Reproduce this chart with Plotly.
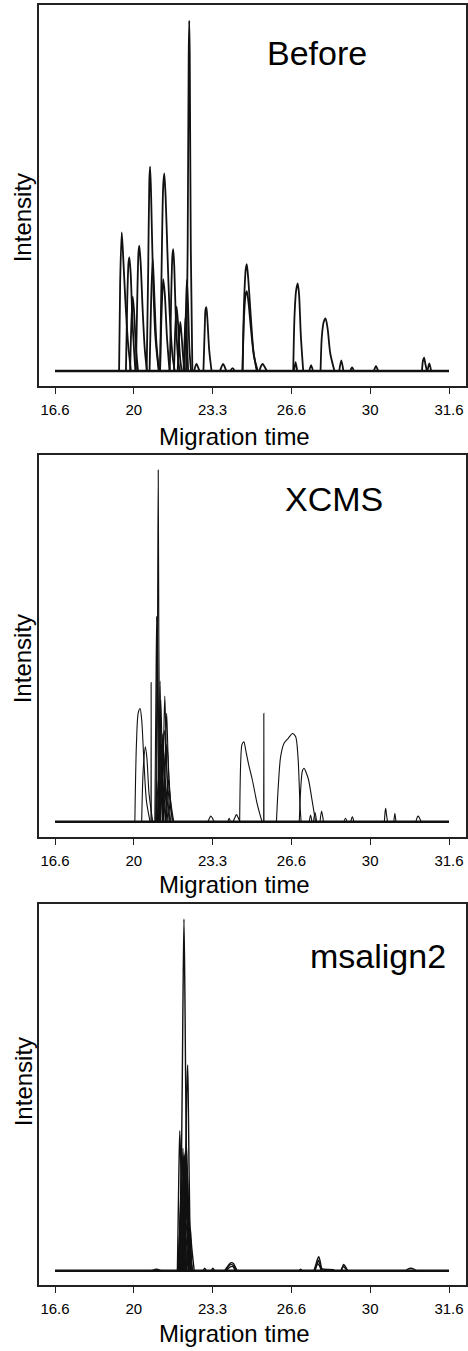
import plotly.graph_objects as go

# ---------------- data (axis position, normalised intensity) ----------------
tick_vals = [16.6, 19.6, 22.6, 25.6, 28.6, 31.6]
tick_labels = ["16.6", "20", "23.3", "26.6", "30", "31.6"]
baseline_t = [16.6, 31.6]
baseline_i = [0, 0]

panel_titles = ["Before", "XCMS", "msalign2"]

# "Before" panel: peaks separated by None
before_t = [
    19.04, 19.08, 19.14, 19.20, 19.28, 19.38, 19.49, None,
    19.30, 19.35, 19.40, 19.43, 19.48, 19.55, 19.66, None,
    19.46, 19.51, 19.56, 19.61, 19.68, 19.76, None,
    19.68, 19.73, 19.78, 19.81, 19.86, 19.94, 20.02, 20.10, None,
    20.09, 20.15, 20.19, 20.22, 20.26, 20.32, 20.42, 20.55, None,
    20.20, 20.26, 20.32, 20.38, 20.46, 20.56, None,
    20.60, 20.66, 20.72, 20.76, 20.81, 20.88, 20.97, 21.08, 21.16, None,
    20.60, 20.66, 20.72, 20.78, 20.86, 20.96, None,
    20.97, 21.02, 21.07, 21.10, 21.14, 21.20, 21.28, 21.34, None,
    21.13, 21.18, 21.23, 21.29, 21.36, 21.42, None,
    21.27, 21.32, 21.37, 21.42, 21.49, 21.55, None,
    21.53, 21.58, 21.62, 21.66, 21.72, 21.78, None,
    21.49, 21.54, 21.57, 21.61, 21.67, None,
    21.60, 21.65, 21.69, 21.71, 21.73, 21.77, 21.83, None,
    21.90, 21.95, 21.99, 22.04, 22.10, None,
    22.25, 22.30, 22.33, 22.36, 22.40, 22.47, 22.56, None,
    22.88, 22.94, 23.00, 23.06, 23.12, None,
    23.28, 23.36, 23.44, None,
    23.74, 23.80, 23.86, 23.90, 23.95, 24.05, 24.15, 24.28, None,
    23.74, 23.80, 23.86, 23.90, 23.96, 24.06, 24.18, 24.32, None,
    24.38, 24.45, 24.51, 24.58, 24.66, None,
    25.67, 25.72, 25.78, 25.84, 25.89, 25.96, 26.05, None,
    25.70, 25.76, 25.82, None,
    26.28, 26.35, 26.42, None,
    26.71, 26.76, 26.83, 26.90, 26.98, 27.08, 27.24, None,
    27.42, 27.50, 27.58, None,
    27.84, 27.91, 27.98, None,
    28.74, 28.82, 28.90, None,
    30.57, 30.61, 30.65, 30.70, 30.76, None,
    30.78, 30.85, 30.92,
]
before_i = [
    0, 0.25, 0.396, 0.32, 0.20, 0.08, 0, None,
    0, 0.20, 0.31, 0.324, 0.28, 0.14, 0, None,
    0, 0.14, 0.212, 0.17, 0.07, 0, None,
    0, 0.20, 0.34, 0.358, 0.31, 0.17, 0.06, 0, None,
    0, 0.30, 0.54, 0.583, 0.50, 0.30, 0.10, 0, None,
    0, 0.20, 0.32, 0.22, 0.08, 0, None,
    0, 0.30, 0.53, 0.564, 0.50, 0.34, 0.16, 0.04, 0, None,
    0, 0.17, 0.262, 0.22, 0.10, 0, None,
    0, 0.20, 0.33, 0.348, 0.30, 0.15, 0.04, 0, None,
    0, 0.12, 0.184, 0.13, 0.04, 0, None,
    0, 0.09, 0.140, 0.10, 0.03, 0, None,
    0, 0.16, 0.26, 0.20, 0.06, 0, None,
    0, 0.10, 0.155, 0.10, 0, None,
    0, 0.35, 0.90, 1.0, 0.90, 0.35, 0, None,
    0, 0.015, 0.02, 0.012, 0, None,
    0, 0.12, 0.175, 0.182, 0.15, 0.06, 0, None,
    0, 0.012, 0.02, 0.012, 0, None,
    0, 0.008, 0, None,
    0, 0.20, 0.29, 0.305, 0.27, 0.16, 0.06, 0, None,
    0, 0.16, 0.22, 0.228, 0.20, 0.12, 0.04, 0, None,
    0, 0.015, 0.02, 0.012, 0, None,
    0, 0.16, 0.23, 0.25, 0.22, 0.10, 0, None,
    0, 0.025, 0, None,
    0, 0.017, 0, None,
    0, 0.10, 0.14, 0.15, 0.12, 0.05, 0, None,
    0, 0.03, 0, None,
    0, 0.01, 0, None,
    0, 0.014, 0, None,
    0, 0.03, 0.038, 0.02, 0, None,
    0, 0.022, 0,
]

# "XCMS" panel
xcms_t = [
    19.64, 19.70, 19.77, 19.84, 19.90, 19.98, 20.08, 20.22, None,
    19.90, 19.96, 20.04, 20.10, 20.18, 20.32, None,
    20.255, 20.26, 20.265, None,
    20.46, 20.50, 20.53, 20.555, 20.60, None,
    20.40, 20.44, 20.47, 20.50, 20.56, None,
    20.43, 20.47, 20.50, 20.54, 20.60, None,
    20.55, 20.60, 20.63, 20.67, 20.74, None,
    20.68, 20.74, 20.78, 20.82, 20.90, 20.98, None,
    20.74, 20.80, 20.85, 20.90, 21.00, 21.10, None,
    20.50, 20.55, 20.58, 20.62, 20.70, None,
    20.60, 20.66, 20.70, 20.75, 20.86, None,
    20.55, 20.62, 20.66, 20.72, 20.84, None,
    20.62, 20.70, 20.74, 20.80, 20.95, None,
    20.80, 20.87, 20.92, 20.98, 21.12, None,
    20.54, 20.58, 20.60, 20.63, 20.70, None,
    20.50, 20.58, 20.66, 20.76, 20.90, None,
    20.56, 20.66, 20.76, 20.86, 21.00, None,
    20.70, 20.78, 20.86, 20.94, 21.06, None,
    20.45, 20.52, 20.60, 20.70, 20.82, None,
    22.42, 22.48, 22.53, 22.58, 22.66, None,
    23.18, 23.23, 23.28, None,
    23.38, 23.45, 23.51, 23.57, 23.64, None,
    23.63, 23.67, 23.72, 23.79, 23.87, 23.98, 24.11, 24.30, 24.48, None,
    24.545, 24.55, 24.555, None,
    25.03, 25.10, 25.19, 25.32, 25.48, 25.64, 25.76, 25.85, 25.93, 25.97, None,
    25.90, 25.96, 26.02, 26.08, 26.16, 26.25, 26.40, 26.52, None,
    26.28, 26.33, 26.38, None,
    26.44, 26.50, 26.56, None,
    26.69, 26.75, 26.82, None,
    27.60, 27.66, 27.72, None,
    27.86, 27.92, 27.98, None,
    29.14, 29.17, 29.19, 29.22, 29.26, None,
    29.50, 29.54, 29.58, None,
    30.34, 30.40, 30.43, 30.48, 30.54,
]
xcms_i = [
    0, 0.22, 0.31, 0.322, 0.29, 0.18, 0.06, 0, None,
    0, 0.15, 0.213, 0.18, 0.08, 0, None,
    0, 0.396, 0, None,
    0, 0.50, 1.0, 0.50, 0, None,
    0, 0.35, 0.583, 0.35, 0, None,
    0, 0.30, 0.564, 0.30, 0, None,
    0, 0.22, 0.346, 0.22, 0, None,
    0, 0.24, 0.357, 0.25, 0.06, 0, None,
    0, 0.20, 0.308, 0.20, 0.04, 0, None,
    0, 0.20, 0.30, 0.20, 0, None,
    0, 0.16, 0.25, 0.15, 0, None,
    0, 0.12, 0.18, 0.10, 0, None,
    0, 0.14, 0.20, 0.12, 0, None,
    0, 0.08, 0.12, 0.07, 0, None,
    0, 0.25, 0.40, 0.25, 0, None,
    0, 0.12, 0.22, 0.14, 0, None,
    0, 0.15, 0.26, 0.14, 0, None,
    0, 0.14, 0.22, 0.12, 0, None,
    0, 0.10, 0.16, 0.08, 0, None,
    0, 0.010, 0.016, 0.012, 0, None,
    0, 0.010, 0, None,
    0, 0.012, 0.02, 0.012, 0, None,
    0, 0.17, 0.22, 0.227, 0.20, 0.16, 0.12, 0.05, 0, None,
    0, 0.308, 0, None,
    0, 0.10, 0.185, 0.223, 0.237, 0.251, 0.242, 0.185, 0.043, 0, None,
    0, 0.10, 0.145, 0.152, 0.14, 0.12, 0.055, 0, None,
    0, 0.019, 0, None,
    0, 0.026, 0, None,
    0, 0.03, 0, None,
    0, 0.010, 0, None,
    0, 0.014, 0, None,
    0, 0.03, 0.038, 0.02, 0, None,
    0, 0.024, 0, None,
    0, 0.014, 0.016, 0.01, 0,
]

# "msalign2" panel
msalign_t = [
    21.34, 21.42, 21.47, 21.51, 21.55, 21.60, 21.70, None,
    21.52, 21.57, 21.61, 21.65, 21.68, 21.73, 21.80, None,
    21.26, 21.31, 21.35, 21.39, 21.44, 21.52, None,
    21.50, 21.55, 21.60, 21.66, 21.76, None,
    21.38, 21.43, 21.47, 21.52, 21.60, None,
    21.44, 21.50, 21.55, 21.60, 21.70, None,
    21.30, 21.37, 21.42, 21.48, 21.58, None,
    21.48, 21.55, 21.60, 21.66, 21.78, None,
    21.62, 21.70, 21.75, 21.80, 21.90, None,
    21.32, 21.40, 21.50, 21.58, 21.72, None,
    21.40, 21.50, 21.58, 21.66, 21.84, None,
    21.30, 21.38, 21.45, 21.52, 21.62, None,
    21.36, 21.44, 21.52, 21.60, 21.74, None,
    21.40, 21.48, 21.56, 21.64, 21.78, None,
    21.46, 21.54, 21.62, 21.70, 21.82, None,
    21.28, 21.36, 21.44, 21.54, 21.66, 21.80, None,
    20.30, 20.46, 20.62, None,
    22.24, 22.30, 22.36, None,
    22.55, 22.61, 22.67, None,
    23.06, 23.15, 23.25, 23.31, 23.40, 23.48, 23.53, None,
    23.10, 23.22, 23.32, 23.42, 23.50, None,
    23.12, 23.26, 23.36, 23.46, None,
    25.90, 25.95, 26.00, None,
    26.46, 26.52, 26.58, 26.64, 26.70, 26.76, 26.85, 27.20, 27.25, None,
    26.48, 26.56, 26.63, 26.68, 26.76, None,
    26.50, 26.60, 26.66, 26.74, None,
    27.48, 27.54, 27.59, 27.65, 27.74, None,
    27.50, 27.58, 27.66, 27.72, None,
    29.95, 30.05, 30.14, 30.25, 30.35,
]
msalign_i = [
    0, 0.35, 0.75, 1.0, 0.75, 0.35, 0, None,
    0, 0.25, 0.50, 0.585, 0.45, 0.15, 0, None,
    0, 0.25, 0.398, 0.30, 0.10, 0, None,
    0, 0.22, 0.362, 0.20, 0, None,
    0, 0.22, 0.348, 0.22, 0, None,
    0, 0.18, 0.30, 0.18, 0, None,
    0, 0.15, 0.25, 0.14, 0, None,
    0, 0.14, 0.22, 0.12, 0, None,
    0, 0.08, 0.12, 0.07, 0, None,
    0, 0.10, 0.18, 0.10, 0, None,
    0, 0.08, 0.14, 0.08, 0, None,
    0, 0.20, 0.32, 0.20, 0, None,
    0, 0.18, 0.33, 0.22, 0, None,
    0, 0.20, 0.34, 0.20, 0, None,
    0, 0.18, 0.30, 0.16, 0, None,
    0, 0.12, 0.22, 0.28, 0.12, 0, None,
    0, 0.004, 0, None,
    0, 0.007, 0, None,
    0, 0.007, 0, None,
    0, 0.010, 0.020, 0.023, 0.020, 0.008, 0, None,
    0, 0.014, 0.018, 0.012, 0, None,
    0, 0.010, 0.012, 0, None,
    0, 0.004, 0, None,
    0, 0.015, 0.030, 0.040, 0.025, 0.006, 0.004, 0.003, 0, None,
    0, 0.015, 0.030, 0.020, 0, None,
    0, 0.020, 0.015, 0, None,
    0, 0.010, 0.018, 0.012, 0, None,
    0, 0.012, 0.006, 0, None,
    0, 0.005, 0.007, 0.005, 0,
]

# ---------------- figure ----------------
W, H = 468, 1351
FONT = "Liberation Sans, Arial, Helvetica, sans-serif"
INK = "#111111"

def py(px):
    return 1 - px / H

x_domain = [39 / W, 466 / W]
y_domains = [[py(386), py(5)], [py(837), py(455)], [py(1285), py(904)]]
y_ranges = [[-0.0428, 1.0448], [-0.0435, 1.0427], [-0.0407, 1.0427]]
x_range = [15.991, 32.247]

series = [(before_t, before_i, 1.8), (xcms_t, xcms_i, 1.1), (msalign_t, msalign_i, 1.4)]

fig = go.Figure()
for k, (tt, ii, lw) in enumerate(series):
    xa = "x" if k == 0 else f"x{k+1}"
    ya = "y" if k == 0 else f"y{k+1}"
    fig.add_trace(go.Scatter(x=baseline_t, y=baseline_i, mode="lines",
                             line=dict(color=INK, width=2.6), xaxis=xa, yaxis=ya,
                             hoverinfo="skip"))
    fig.add_trace(go.Scatter(x=tt, y=ii, mode="lines", connectgaps=False,
                             line=dict(color=INK, width=lw, shape="spline", smoothing=0.8),
                             xaxis=xa, yaxis=ya, hoverinfo="skip"))

layout = dict(width=W, height=H, margin=dict(l=0, r=0, t=0, b=0),
              paper_bgcolor="white", plot_bgcolor="white", showlegend=False,
              font=dict(family=FONT, color="black"))
for k in range(3):
    xn = "xaxis" if k == 0 else f"xaxis{k+1}"
    yn = "yaxis" if k == 0 else f"yaxis{k+1}"
    yid = "y" if k == 0 else f"y{k+1}"
    xid = "x" if k == 0 else f"x{k+1}"
    layout[xn] = dict(domain=x_domain, range=x_range, anchor=yid,
                      tickmode="array", tickvals=tick_vals, ticktext=tick_labels,
                      ticks="outside", ticklen=6, tickwidth=1.4, tickcolor="#222",
                      tickfont=dict(size=15, family=FONT, color="black"),
                      ticklabelstandoff=3,
                      showline=True, linecolor="#222", linewidth=1.5, mirror=True,
                      showgrid=False, zeroline=False)
    layout[yn] = dict(domain=y_domains[k], range=y_ranges[k], anchor=xid,
                      showticklabels=False, ticks="",
                      showline=True, linecolor="#222", linewidth=1.5, mirror=True,
                      showgrid=False, zeroline=False)
fig.update_layout(**layout)

ann = []
title_pos = [(316.7 / W, py(53), "center"), (333.8 / W, py(499), "center"),
             (448.3 / W, py(955.5), "right")]
for (x, y, anc), txt in zip(title_pos, panel_titles):
    ann.append(dict(x=x, y=y, xref="paper", yref="paper", text=txt, showarrow=False,
                    xanchor=anc, yanchor="middle", font=dict(size=34, family=FONT, color="black")))
for yc in [218, 659, 1082]:
    ann.append(dict(x=23.3 / W, y=py(yc), xref="paper", yref="paper", text="Intensity",
                    textangle=-90, showarrow=False, xanchor="center", yanchor="middle",
                    font=dict(size=24, family=FONT, color="black")))
for yc in [437, 884, 1333]:
    ann.append(dict(x=234 / W, y=py(yc), xref="paper", yref="paper", text="Migration time",
                    showarrow=False, xanchor="center", yanchor="middle",
                    font=dict(size=24, family=FONT, color="black")))
fig.update_layout(annotations=ann)

fig.write_html("out.html", config={"displayModeBar": False},
               post_script="document.body.style.margin='0';document.body.style.overflow='hidden';")
